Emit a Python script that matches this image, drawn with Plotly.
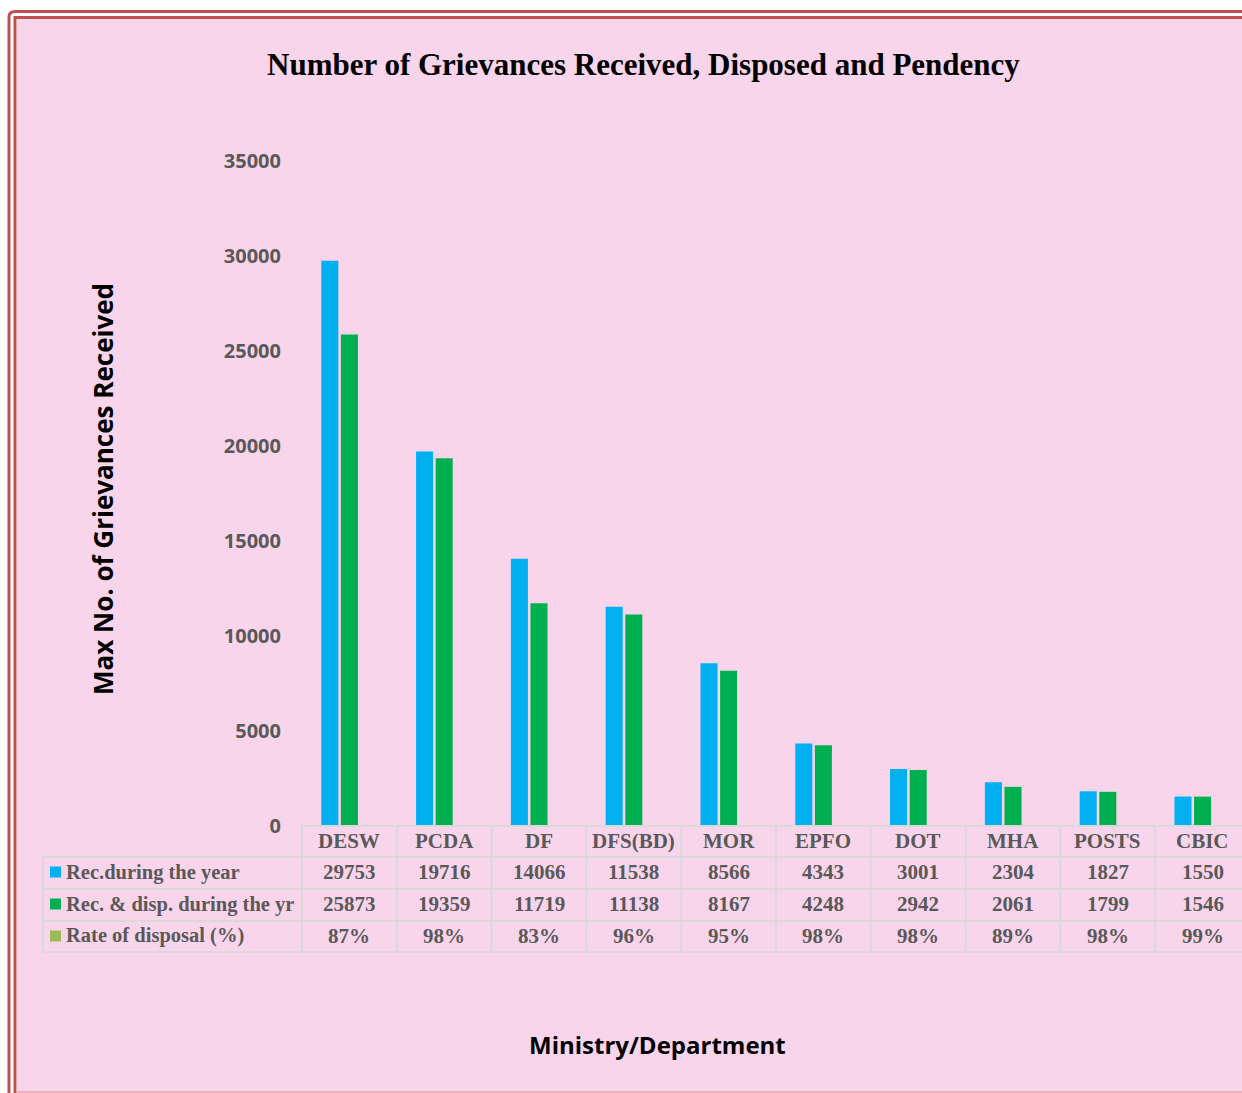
import plotly.graph_objects as go

categories = ["DESW", "PCDA", "DF", "DFS(BD)", "MOR", "EPFO", "DOT", "MHA", "POSTS", "CBIC"]
received = [29753, 19716, 14066, 11538, 8566, 4343, 3001, 2304, 1827, 1550]
disposed = [25873, 19359, 11719, 11138, 8167, 4248, 2942, 2061, 1799, 1546]
rate_pct = [87, 98, 83, 96, 95, 98, 98, 89, 98, 99]
series_names = ["Rec.during the year", "Rec. & disp. during the yr", "Rate of disposal (%)"]
series_colors = ["#00B0F0", "#00B050", "#9BBB59"]
y_ticks = [0, 5000, 10000, 15000, 20000, 25000, 30000, 35000]

W, H = 1242, 1093
L, T, R_EDGE, B_EDGE = 302, 161, 1242, 826
PW, PH = R_EDGE - L, B_EDGE - T

def px(x):
    return (x - L) / PW

def py(y):
    return (B_EDGE - y) / PH

# x range: 10 columns of ~94.8 px starting at x=302, last column cut at page edge
col_w = 94.8
x_right = -0.5 + PW / col_w

fig = go.Figure()
fig.add_trace(go.Bar(x=list(range(len(categories))), y=received, name=series_names[0],
                     marker=dict(color=series_colors[0], line=dict(width=0))))
fig.add_trace(go.Bar(x=list(range(len(categories))), y=disposed, name=series_names[1],
                     marker=dict(color=series_colors[1], line=dict(width=0))))
fig.add_trace(go.Bar(x=list(range(len(categories))), y=[r / 100 for r in rate_pct], name=series_names[2],
                     marker=dict(color=series_colors[2], line=dict(width=0))))

shapes = []
annotations = []
GRID = "#D9D9D9"
TXT = "#595959"
RED = "#C0504D"
serif = "Liberation Serif, Times New Roman, serif"

# background and frame
shapes.append(dict(type="rect", xref="paper", yref="paper", x0=px(17), x1=px(1260), y0=py(18), y1=py(1092),
                   fillcolor="#F9D5EC", line=dict(width=0), layer="below"))
# outer frame (left + top)
shapes.append(dict(type="path", xref="paper", yref="paper",
                   path=f"M {px(9)},{py(1120)} L {px(9)},{py(17)} Q {px(9)},{py(11.5)} {px(15)},{py(11.5)} L {px(1270)},{py(11.5)}",
                   line=dict(color=RED, width=3), layer="below"))
# inner frame (left + top)
shapes.append(dict(type="path", xref="paper", yref="paper",
                   path=f"M {px(15)},{py(1120)} L {px(15)},{py(17.5)} L {px(1270)},{py(17.5)}",
                   line=dict(color=RED, width=3), layer="below"))
# faint bottom line
shapes.append(dict(type="line", xref="paper", yref="paper", x0=px(17), x1=px(1260), y0=py(1092), y1=py(1092),
                   line=dict(color="#EE9CAA", width=1.5), layer="below"))

# table rows (pixel positions)
row_lines = [826, 857, 889, 921, 952]
row_centers = [841, 872, 904, 936]
tbl_left = 43

# horizontal lines
shapes.append(dict(type="line", xref="paper", yref="paper", x0=px(L), x1=px(1250), y0=py(826), y1=py(826),
                   line=dict(color=GRID, width=2)))
for yy in row_lines[1:]:
    shapes.append(dict(type="line", xref="paper", yref="paper", x0=px(tbl_left), x1=px(1250), y0=py(yy), y1=py(yy),
                       line=dict(color=GRID, width=2)))
# vertical lines
shapes.append(dict(type="line", xref="paper", yref="paper", x0=px(tbl_left), x1=px(tbl_left), y0=py(857), y1=py(952),
                   line=dict(color=GRID, width=2)))
for i in range(len(categories) + 1):
    xx = (i - 0.5 - (-0.5)) / (x_right + 0.5)
    shapes.append(dict(type="line", xref="paper", yref="paper", x0=xx, x1=xx, y0=py(826), y1=py(952),
                       line=dict(color=GRID, width=2)))

# header categories
for i, c in enumerate(categories):
    annotations.append(dict(x=i, y=py(row_centers[0]), xref="x", yref="paper", text=f"<b>{c}</b>", showarrow=False,
                            font=dict(family=serif, size=21, color=TXT), xanchor="center", yanchor="middle"))
rows = [[str(v) for v in received], [str(v) for v in disposed], [f"{v}%" for v in rate_pct]]
for r, vals in enumerate(rows):
    yc = row_centers[r + 1]
    for i, v in enumerate(vals):
        annotations.append(dict(x=i, y=py(yc), xref="x", yref="paper", text=f"<b>{v}</b>", showarrow=False,
                                font=dict(family=serif, size=21, color=TXT), xanchor="center", yanchor="middle"))
    annotations.append(dict(x=px(64), y=py(yc), xref="paper", yref="paper", text=f"<b>{series_names[r]}</b>",
                            showarrow=False, font=dict(family=serif, size=20.5, color=TXT),
                            xanchor="left", yanchor="middle"))
    shapes.append(dict(type="rect", xref="paper", yref="paper", x0=px(50), x1=px(61), y0=py(yc - 5.5), y1=py(yc + 5.5),
                       fillcolor=series_colors[r], line=dict(width=0)))

# titles
annotations.append(dict(x=px(643), y=py(64), xref="paper", yref="paper",
                        text="<b>Number of Grievances Received, Disposed and Pendency</b>", showarrow=False,
                        font=dict(family=serif, size=31, color="black"), xanchor="center", yanchor="middle"))
annotations.append(dict(x=px(103), y=py(489), xref="paper", yref="paper",
                        text="<b>Max No. of Grievances Received</b>", showarrow=False, textangle=-90,
                        font=dict(family="Open Sans", size=26, color="black"), xanchor="center", yanchor="middle"))
annotations.append(dict(x=px(657), y=py(1044), xref="paper", yref="paper",
                        text="<b>Ministry/Department</b>", showarrow=False,
                        font=dict(family="Open Sans", size=24, color="black"), xanchor="center", yanchor="middle"))

fig.update_layout(
    width=W, height=H,
    margin=dict(l=L, r=W - R_EDGE, t=T, b=H - B_EDGE, pad=0),
    paper_bgcolor="white", plot_bgcolor="rgba(0,0,0,0)",
    barmode="group", bargap=0.38, bargroupgap=0.13,
    showlegend=False,
    xaxis=dict(range=[-0.5, x_right], showticklabels=False, showgrid=False, zeroline=False, showline=False,
               fixedrange=True),
    yaxis=dict(range=[0, 35000], tickvals=y_ticks, ticktext=[str(v) for v in y_ticks], showgrid=False,
               zeroline=False, showline=False, ticks="outside", ticklen=16, tickcolor="rgba(0,0,0,0)",
               tickfont=dict(family="Open Sans", size=20, color=TXT, weight="bold")),
    shapes=shapes, annotations=annotations,
)

fig.write_html("out.html")
